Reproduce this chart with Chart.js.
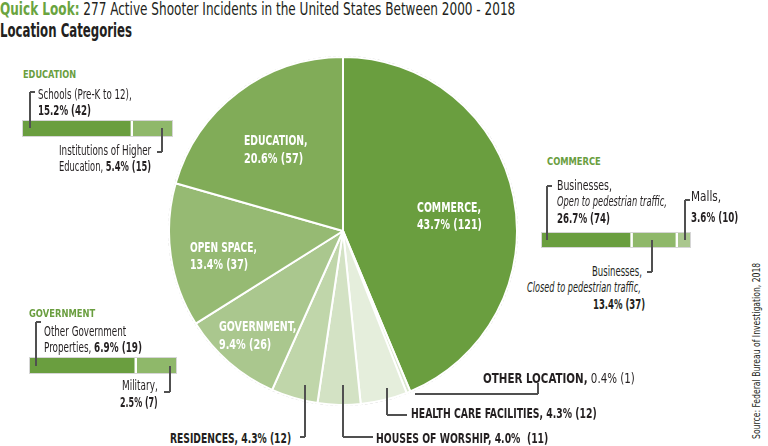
<!DOCTYPE html>
<html><head><meta charset="utf-8">
<script src="https://cdn.jsdelivr.net/npm/chart.js@4/dist/chart.umd.min.js"></script>
<style>
html,body{margin:0;padding:0;background:#fff;width:768px;height:446px;overflow:hidden;position:relative}
body{font-family:"Liberation Sans Narrow","DejaVu Sans Condensed","Roboto Condensed",sans-serif;color:#231f20}
.t{position:absolute;white-space:nowrap;line-height:1;transform-origin:0 0;left:0;top:0}
.ln{position:absolute;background:#505050}
.cv{position:absolute}
b{font-weight:700}
</style></head><body>
<script>
// ---------- DATA ----------
const total = 277;
const categories = ["COMMERCE","OTHER LOCATION","HEALTH CARE FACILITIES","HOUSES OF WORSHIP","RESIDENCES","GOVERNMENT","OPEN SPACE","EDUCATION"];
const values = [121, 1, 12, 11, 12, 26, 37, 57];
const sliceColors = ["#6a9e3f","#dbe7cf","#e5eedc","#d3e2c4","#c0d6aa","#aac78e","#96ba73","#81ac58"];

const eduLabels = ["Schools (Pre-K to 12)","Institutions of Higher Education"];
const eduValues = [42, 15];
const comLabels = ["Businesses, Open to pedestrian traffic","Businesses, Closed to pedestrian traffic","Malls"];
const comValues = [74, 37, 10];
const govLabels = ["Other Government Properties","Military"];
const govValues = [19, 7];
const subColors = ["#6a9e3f","#8fb86a","#aac78e"];

const pct = v => (v / total * 100).toFixed(1) + "%";

// ---------- helpers ----------
function txt(html, x, base, size, width, opt) {
  opt = opt || {};
  const d = document.createElement('div');
  d.className = 't';
  d.style.fontSize = size + 'px';
  if (opt.bold) d.style.fontWeight = '700';
  if (opt.italic) d.style.fontStyle = 'italic';
  d.style.color = opt.color || '#231f20';
  d.innerHTML = html;
  document.body.appendChild(d);
  const w = d.offsetWidth;
  const s = width / w;
  const left = opt.align === 'right' ? x - width : x;
  d.style.transform = 'translate(' + left + 'px,' + (base - 0.85 * size) + 'px) scaleX(' + s + ')';
  return d;
}
function hl(x1, x2, y) {
  const d = document.createElement('div'); d.className = 'ln';
  d.style.left = Math.min(x1, x2) + 'px'; d.style.top = (y - 0.75) + 'px';
  d.style.width = Math.abs(x2 - x1) + 'px'; d.style.height = '1.5px';
  document.body.appendChild(d);
}
function vl(x, y1, y2) {
  const d = document.createElement('div'); d.className = 'ln';
  d.style.left = (x - 0.75) + 'px'; d.style.top = Math.min(y1, y2) + 'px';
  d.style.height = Math.abs(y2 - y1) + 'px'; d.style.width = '1.5px';
  document.body.appendChild(d);
}
function canvasAt(left, top, w, h) {
  const c = document.createElement('canvas');
  c.className = 'cv'; c.width = w; c.height = h;
  c.style.left = left + 'px'; c.style.top = top + 'px';
  c.style.width = w + 'px'; c.style.height = h + 'px';
  document.body.appendChild(c);
  return c;
}
function stackBar(left, top, w, h, labels, vals) {
  const o = document.createElement('div');
  o.style.cssText = 'position:absolute;left:' + (left - 1) + 'px;top:' + (top - 1) + 'px;width:' + w + 'px;height:' + h + 'px;border:1px solid #d6d6d6';
  document.body.appendChild(o);
  const c = canvasAt(left, top, w, h);
  const sum = vals.reduce((a, b) => a + b, 0);
  new Chart(c, {
    type: 'bar',
    data: {
      labels: [''],
      datasets: vals.map((v, i) => ({
        label: labels[i], data: [v], backgroundColor: subColors[i],
        borderColor: '#ffffff', borderWidth: i < vals.length - 1 ? {right: 2.5} : 0,
        borderSkipped: false, barPercentage: 1, categoryPercentage: 1
      }))
    },
    options: {
      indexAxis: 'y', responsive: false, animation: false, devicePixelRatio: 1,
      layout: {padding: 0},
      scales: {
        x: {stacked: true, display: false, min: 0, max: sum},
        y: {stacked: true, display: false}
      },
      plugins: {legend: {display: false}, tooltip: {enabled: false}}
    }
  });
}

// ---------- PIE ----------
const ring = document.createElement('div');
ring.style.cssText = 'position:absolute;left:168px;top:56px;width:350px;height:350px;border-radius:50%;border:1px dashed #c9c9c9;box-sizing:border-box';
document.body.appendChild(ring);
const pc = canvasAt(168, 56, 350, 350);
new Chart(pc, {
  type: 'pie',
  data: {
    labels: categories,
    datasets: [{data: values, backgroundColor: sliceColors, borderColor: '#ffffff', borderWidth: 2}]
  },
  options: {
    responsive: false, animation: false, devicePixelRatio: 1,
    layout: {padding: 0},
    plugins: {legend: {display: false}, tooltip: {enabled: false}}
  }
});

// ---------- SUB BARS ----------
stackBar(23, 121, 149, 15, eduLabels, eduValues);
stackBar(542, 233, 148, 14, comLabels, comValues);
stackBar(30, 358, 146, 15, govLabels, govValues);

// ---------- TITLE ----------
txt('<b style="color:#6aa43f">Quick Look:</b> 277 Active Shooter Incidents in the United States Between 2000 - 2018', 0, 15, 18, 515);
txt('<b>Location Categories</b>', 0, 37, 19, 132);

// ---------- inside labels ----------
const W = {color: '#ffffff', bold: true};
txt(categories[7] + ',', 244, 145, 14, 64, W);
txt(pct(values[7]) + ' (' + values[7] + ')', 244, 163, 14, 59, W);
txt(categories[0] + ',', 417, 212, 14, 64, W);
txt(pct(values[0]) + ' (' + values[0] + ')', 417, 229, 14, 65, W);
txt(categories[6] + ',', 190, 252, 14, 67, W);
txt(pct(values[6]) + ' (' + values[6] + ')', 190, 269, 14, 58, W);
txt(categories[5] + ',', 219, 331, 14, 77, W);
txt(pct(values[5]) + ' (' + values[5] + ')', 219, 349, 14, 52, W);

// ---------- bottom labels ----------
txt('<b>' + categories[1] + ',</b> ' + pct(values[1]) + ' (' + values[1] + ')', 483, 383, 14, 152);
vl(538, 383, 394); hl(415, 538, 394);
txt('<b>' + categories[2] + ', ' + pct(values[2]) + ' (' + values[2] + ')</b>', 411, 418, 14, 186);
vl(387, 388, 415); hl(387, 407, 415);
txt('<b>' + categories[3] + ', ' + pct(values[3]) + '&nbsp; (' + values[3] + ')</b>', 376, 443, 14, 172);
vl(343, 385, 437); hl(343, 373, 437);
txt('<b>' + categories[4] + ', ' + pct(values[4]) + ' (' + values[4] + ')</b>', 170, 443, 14, 121);
vl(305, 385, 437); hl(300, 305, 437);

// ---------- EDUCATION block ----------
const G = {color: '#6a9e3f', bold: true};
txt('EDUCATION', 23, 78, 11, 53, G);
txt('Schools (Pre-K to 12),', 38, 99, 14, 94);
txt('<b>' + pct(eduValues[0]) + ' (' + eduValues[0] + ')</b>', 38, 115, 14, 53);
vl(30, 92, 128); hl(30, 35, 92);
txt('Institutions of Higher', 59, 155, 14, 92);
txt('Education, <b>' + pct(eduValues[1]) + ' (' + eduValues[1] + ')</b>', 59, 171, 14, 92);
vl(162, 128, 152); hl(157, 162, 152);

// ---------- COMMERCE block ----------
txt('COMMERCE', 547, 165, 11, 54, G);
txt('Businesses,', 557, 190, 14, 55);
txt('Open to pedestrian traffic,', 557, 206, 14, 110, {italic: true});
txt('<b>' + pct(comValues[0]) + ' (' + comValues[0] + ')</b>', 557, 223, 14, 53);
vl(547, 186, 240); hl(547, 552, 186);
txt('Malls,', 691, 201, 14, 30);
txt('<b>' + pct(comValues[2]) + ' (' + comValues[2] + ')</b>', 691, 222, 14, 47);
vl(685, 200, 240); hl(685, 690, 200);
txt('Businesses,', 642, 276, 14, 50, {align: 'right'});
txt('Closed to pedestrian traffic,', 641, 292, 14, 114, {italic: true, align: 'right'});
txt('<b>' + pct(comValues[1]) + ' (' + comValues[1] + ')</b>', 645, 309, 14, 52, {align: 'right'});
vl(652, 240, 272); hl(647, 652, 272);

// ---------- GOVERNMENT block ----------
txt('GOVERNMENT', 29, 317, 11, 66, G);
txt('Other Government', 44, 336, 14, 82);
txt('Properties, <b>' + pct(govValues[0]) + ' (' + govValues[0] + ')</b>', 44, 352, 14, 98);
vl(36, 322, 366); hl(36, 41, 322);
txt('Military,', 158, 390, 14, 36, {align: 'right'});
txt('<b>' + pct(govValues[1]) + ' (' + govValues[1] + ')</b>', 158, 407, 14, 38, {align: 'right'});
vl(170, 366, 392); hl(164, 170, 392);

// ---------- SOURCE ----------
const src = document.createElement('div');
src.className = 't'; src.style.fontSize = '10px';
src.textContent = 'Source: Federal Bureau of Investigation, 2018';
document.body.appendChild(src);
const sw = src.offsetWidth;
src.style.transform = 'translate(752px,439px) rotate(-90deg) scaleX(' + (176 / sw) + ')';
</script>
</body></html>
